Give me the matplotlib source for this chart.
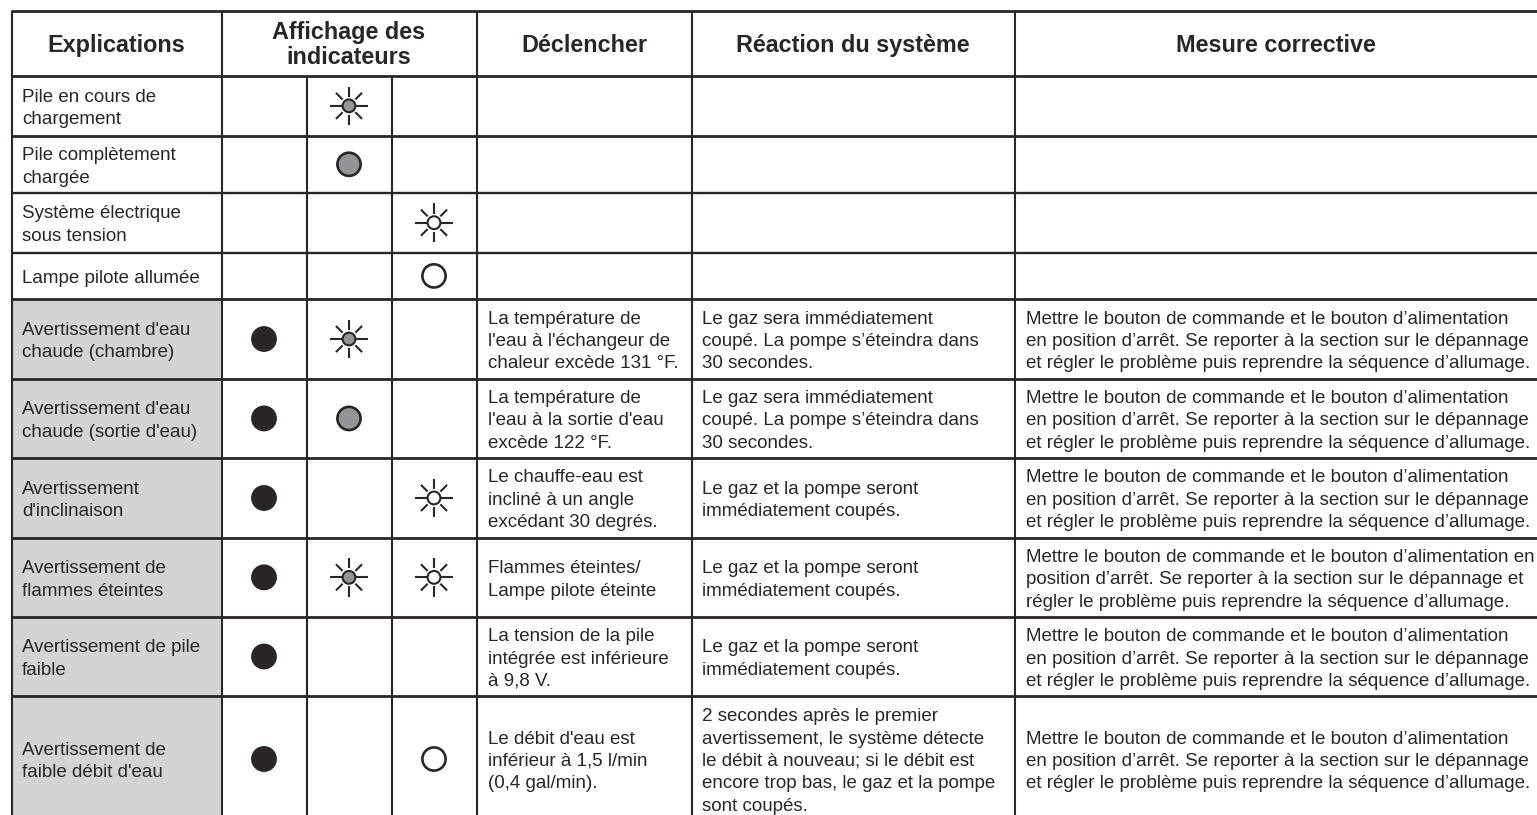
import matplotlib
matplotlib.use("Agg")
import matplotlib.pyplot as plt
from matplotlib.patches import Circle, Rectangle
import math

plt.rcParams['font.family'] = ['Liberation Sans', 'DejaVu Sans']

headers = ["Explications", "Affichage des\nindicateurs", "Déclencher", "Réaction du système", "Mesure corrective"]

explications = [
    "Pile en cours de\nchargement",
    "Pile complètement\nchargée",
    "Système électrique\nsous tension",
    "Lampe pilote allumée",
    "Avertissement d'eau\nchaude (chambre)",
    "Avertissement d'eau\nchaude (sortie d'eau)",
    "Avertissement\nd'inclinaison",
    "Avertissement de\nflammes éteintes",
    "Avertissement de pile\nfaible",
    "Avertissement de\nfaible débit d'eau",
]
shaded = [False, False, False, False, True, True, True, True, True, True]

# Indicator state per row: one code for each of the three indicator columns
# K = solid black, G = solid grey, W = solid white, g = flashing grey, w = flashing white
indicateurs = [
    ["", "g", ""], ["", "G", ""], ["", "", "w"], ["", "", "W"],
    ["K", "g", ""], ["K", "G", ""], ["K", "", "w"], ["K", "g", "w"],
    ["K", "", ""], ["K", "", "W"],
]

declencher = [
    "", "", "", "",
    "La température de\nl'eau à l'échangeur de\nchaleur excède 131 °F.",
    "La température de\nl'eau à la sortie d'eau\nexcède 122 °F.",
    "Le chauffe-eau est\nincliné à un angle\nexcédant 30 degrés.",
    "Flammes éteintes/\nLampe pilote éteinte",
    "La tension de la pile\nintégrée est inférieure\nà 9,8 V.",
    "Le débit d'eau est\ninférieur à 1,5 l/min\n(0,4 gal/min).",
]

reaction = [
    "", "", "", "",
    "Le gaz sera immédiatement\ncoupé. La pompe s’éteindra dans\n30 secondes.",
    "Le gaz sera immédiatement\ncoupé. La pompe s’éteindra dans\n30 secondes.",
    "Le gaz et la pompe seront\nimmédiatement coupés.",
    "Le gaz et la pompe seront\nimmédiatement coupés.",
    "Le gaz et la pompe seront\nimmédiatement coupés.",
    "2 secondes après le premier\navertissement, le système détecte\nle débit à nouveau; si le débit est\nencore trop bas, le gaz et la pompe\nsont coupés.",
]

_m1 = "Mettre le bouton de commande et le bouton d’alimentation\nen position d’arrêt. Se reporter à la section sur le dépannage\net régler le problème puis reprendre la séquence d’allumage."
_m2 = "Mettre le bouton de commande et le bouton d’alimentation en\nposition d’arrêt. Se reporter à la section sur le dépannage et\nrégler le problème puis reprendre la séquence d’allumage."
mesure = ["", "", "", "", _m1, _m1, _m1, _m2, _m1, _m1]

# Layout (pixels)
W, H = 1537, 815
col_x = [11.5, 221.5, 306.5, 391.5, 476.5, 691.5, 1014.5]
row_y = [10.7, 76, 135.7, 192.9, 252.5, 299.3, 378.7, 458.2, 537.7, 617, 696, 822]
text_x = [22, 488, 702.5, 1025.5]
INK = "#2a2627"
SHADE = "#d1d3d4"
GREY = "#939598"
BODY = 13.5
HEAD = 16.8
LINE = 22.5

fig = plt.figure(figsize=(W / 100, H / 100), dpi=100, facecolor="white")
ax = fig.add_axes([0, 0, 1, 1])
ax.set_xlim(0, W)
ax.set_ylim(H, 0)
ax.axis("off")


def lines(x, yc, s, size=BODY, step=LINE, ha="left", weight="normal", base=7.0):
    parts = s.split("\n")
    for i, p in enumerate(parts):
        y = yc + (i - (len(parts) - 1) / 2) * step + base
        ax.text(x, y, p, fontsize=size, ha=ha, va="baseline", color=INK, weight=weight)


def symbol(x, y, code):
    if code in ("K", "G", "W"):
        face = {"K": INK, "G": GREY, "W": "white"}[code]
        ax.add_patch(Circle((x, y), 11.6, fc=face, ec=INK, lw=1.9, zorder=3))
    else:
        face = {"g": GREY, "w": "white"}[code]
        for k in range(8):
            a = k * math.pi / 4
            if k in (0, 4):
                r0, r1 = 7.0, 19.3
            elif k in (2, 6):
                r0, r1 = 9.0, 19.3
            else:
                r0, r1 = 9.0, 18.5
            ax.plot([x + r0 * math.cos(a), x + r1 * math.cos(a)],
                    [y + r0 * math.sin(a), y + r1 * math.sin(a)],
                    color=INK, lw=1.5, solid_capstyle="butt", zorder=3)
        ax.add_patch(Circle((x, y), 6.4, fc=face, ec=INK, lw=1.5, zorder=4))


# shaded cells
for i, s in enumerate(shaded):
    if s:
        ax.add_patch(Rectangle((col_x[0], row_y[i + 1]), col_x[1] - col_x[0],
                               row_y[i + 2] - row_y[i + 1], fc=SHADE, ec="none", zorder=0))

# grid
for j, y in enumerate(row_y[:-1]):
    lw = 2.0 if j in (0, 1, 2, 5, 6, 7, 8, 9, 10) else 1.7
    ax.plot([col_x[0] - 1, W], [y, y], color=INK, lw=lw, solid_capstyle="butt", zorder=2)
for i, x in enumerate(col_x):
    top = row_y[1] if i in (2, 3) else row_y[0]
    ax.plot([x, x], [top, H], color=INK, lw=1.5, solid_capstyle="butt", zorder=2)

# header
hc = (row_y[0] + row_y[1]) / 2
hx = [(col_x[0] + col_x[1]) / 2, (col_x[1] + col_x[4]) / 2, (col_x[4] + col_x[5]) / 2,
      (col_x[5] + col_x[6]) / 2, (col_x[6] + W) / 2]
for x, s in zip(hx, headers):
    lines(x, hc, s, size=HEAD, step=25, ha="center", weight="bold", base=8.5)

# body
ind_x = [(col_x[k] + col_x[k + 1]) / 2 for k in (1, 2, 3)]
for i in range(len(explications)):
    yc = (row_y[i + 1] + row_y[i + 2]) / 2
    lines(text_x[0], yc, explications[i])
    for x, code in zip(ind_x, indicateurs[i]):
        if code:
            symbol(x, yc, code)
    if declencher[i]:
        lines(text_x[1], yc, declencher[i])
    if reaction[i]:
        lines(text_x[2], yc, reaction[i])
    if mesure[i]:
        lines(text_x[3], yc, mesure[i])

fig.savefig("out.png", dpi=100, facecolor="white")
